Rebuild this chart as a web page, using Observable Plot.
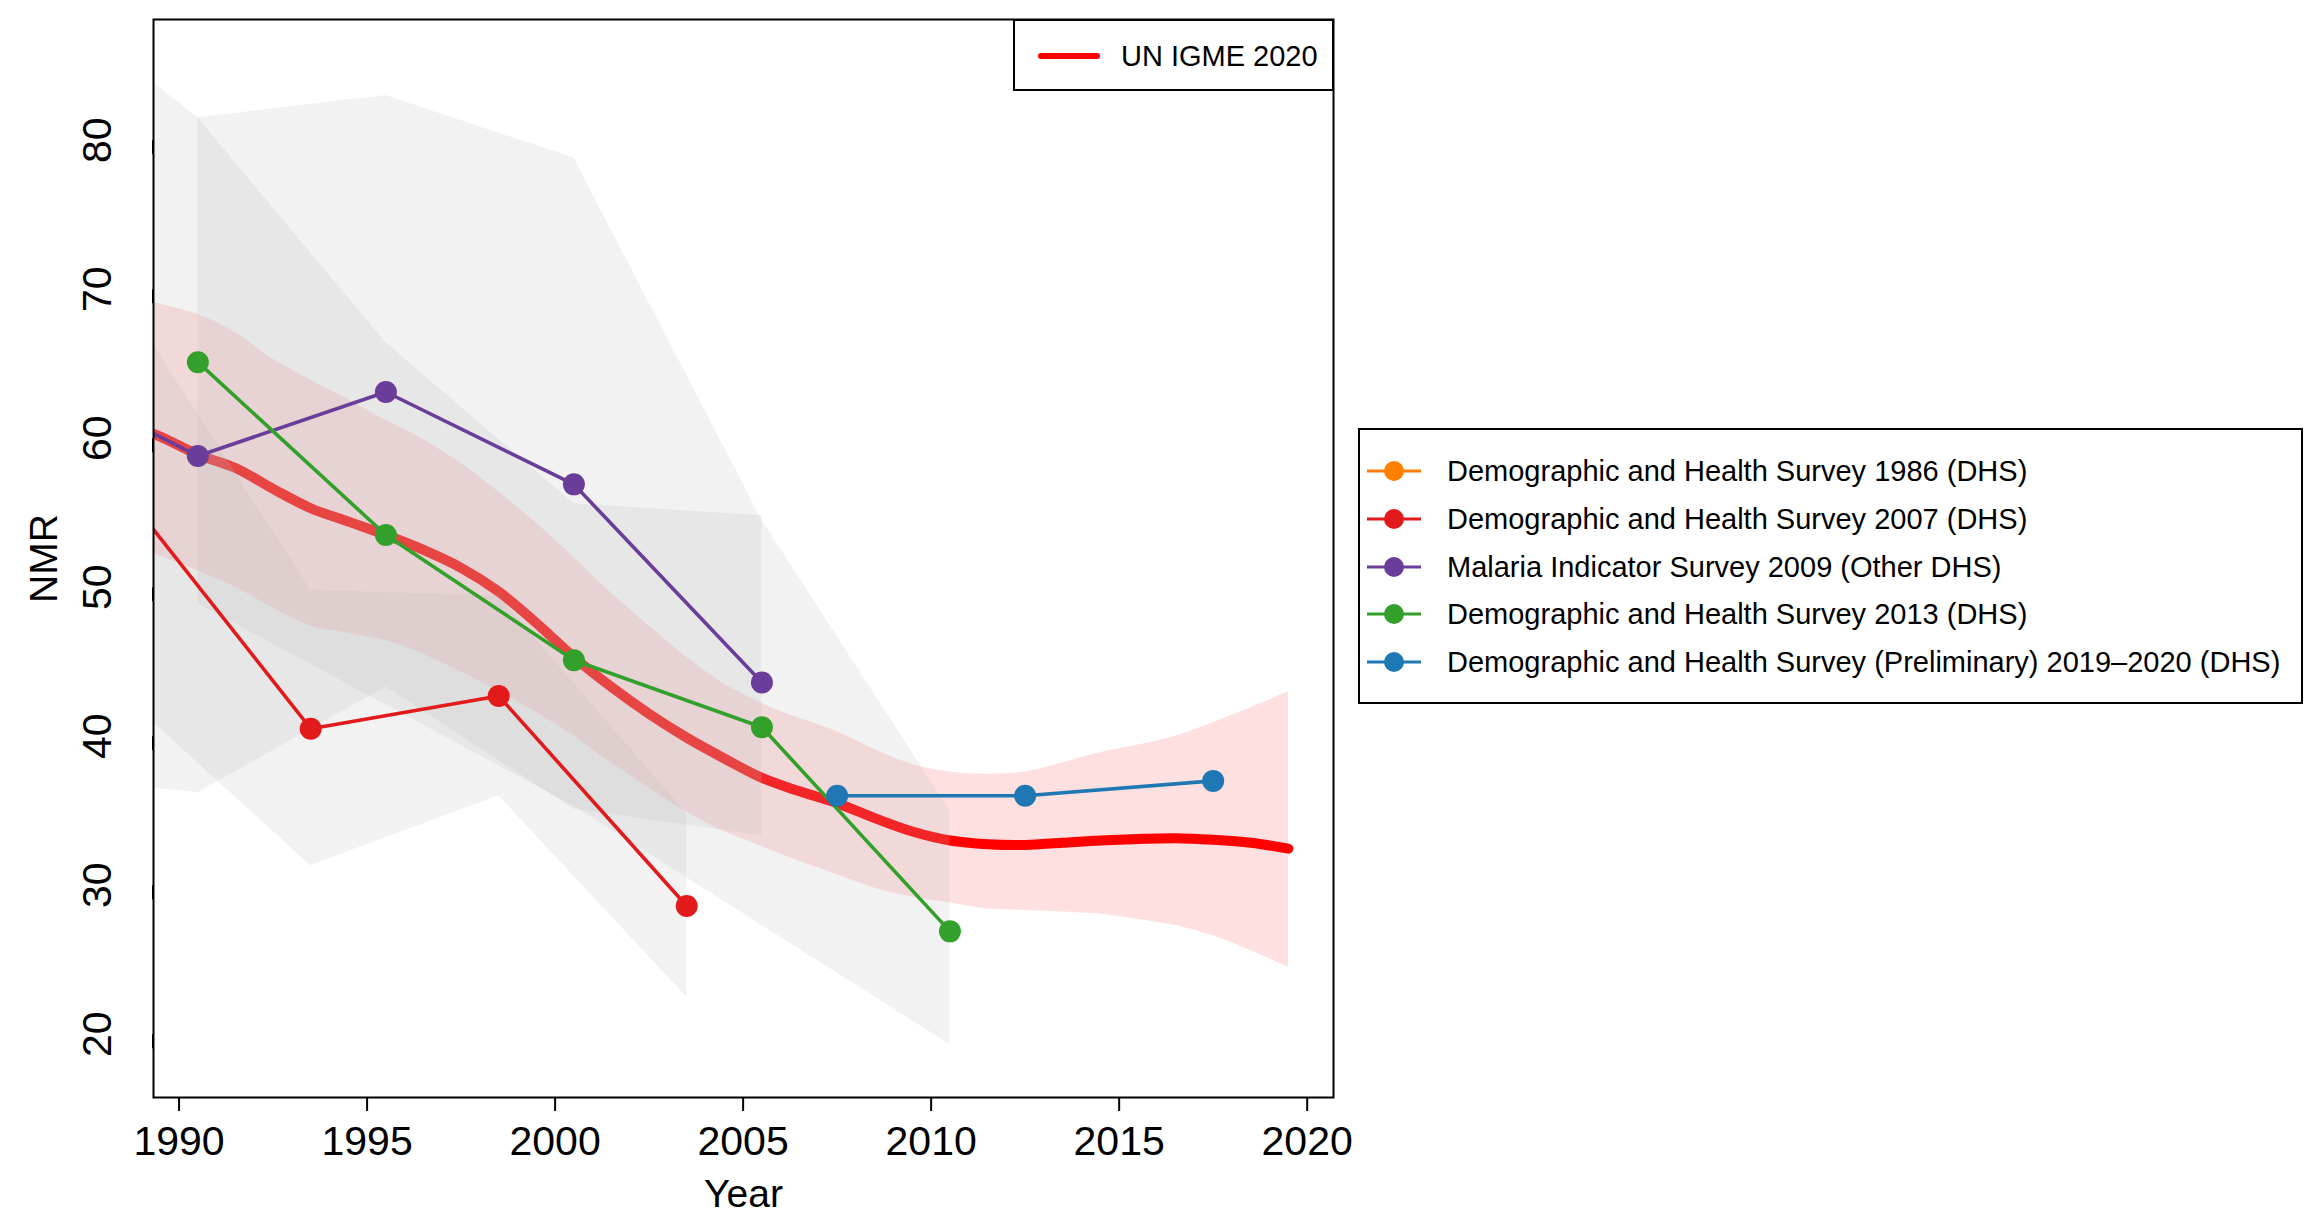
<!DOCTYPE html>
<html>
<head>
<meta charset="utf-8">
<script src="https://cdn.jsdelivr.net/npm/d3@7"></script>
<script src="https://cdn.jsdelivr.net/npm/@observablehq/plot@0.6"></script>
<style>
  body { margin: 0; background: #fff; }
  #wrap { position: relative; width: 2318px; height: 1216px; font-family: "Liberation Sans", Arial, Helvetica, sans-serif; color: #000; }
  #wrap svg { position: absolute; left: 0; top: 0; }
  .legend { position: absolute; box-sizing: border-box; border: 2px solid #000; background: #fff; }
  .legend .sym { position: absolute; left: 0; top: 0; }
  .legend .lab { position: absolute; font-size: 29px; height: 40px; line-height: 40px; white-space: nowrap; }
</style>
</head>
<body>
<div id="wrap"></div>
<script>
// ---- UN IGME 2020 estimates (median and uncertainty bounds) ----
const igmeYears = [1988.5, 1989.5, 1990.5, 1991.5, 1992.5, 1993.5, 1994.5, 1995.5, 1996.5, 1997.5,
  1998.5, 1999.5, 2000.5, 2001.5, 2002.5, 2003.5, 2004.5, 2005.5, 2006.5, 2007.5,
  2008.5, 2009.5, 2010.5, 2011.5, 2012.5, 2013.5, 2014.5, 2015.5, 2016.5, 2017.5, 2018.5, 2019.5];
const igmeMedian = [61.1, 60.1, 58.9, 58.0, 56.6, 55.3, 54.4, 53.5, 52.5, 51.3,
  49.7, 47.6, 45.3, 43.3, 41.5, 39.9, 38.5, 37.2, 36.3, 35.5,
  34.5, 33.6, 33.0, 32.75, 32.7, 32.85, 33.0, 33.1, 33.15, 33.05, 32.85, 32.45];
const igmeLower = [53.0, 52.1, 51.1, 50.0, 48.6, 47.4, 46.9, 46.4, 45.5, 44.3,
  43.0, 41.6, 40.0, 38.2, 36.5, 34.9, 33.6, 32.6, 31.6, 30.7,
  29.8, 29.2, 28.8, 28.4, 28.3, 28.2, 28.05, 27.7, 27.3, 26.6, 25.6, 24.5];
const igmeUpper = [69.8, 69.0, 68.3, 67.1, 65.3, 63.9, 62.6, 61.2, 59.9, 58.3,
  56.4, 54.3, 52.0, 49.6, 47.4, 45.3, 43.5, 42.2, 41.2, 40.3,
  39.1, 38.1, 37.6, 37.45, 37.6, 38.2, 38.9, 39.4, 40.0, 40.9, 41.9, 43.0];

// ---- Surveys ----
const surveyNames = [
  "Demographic and Health Survey 1986 (DHS)",
  "Demographic and Health Survey 2007 (DHS)",
  "Malaria Indicator Survey 2009 (Other DHS)",
  "Demographic and Health Survey 2013 (DHS)",
  "Demographic and Health Survey (Preliminary) 2019\u20132020 (DHS)"
];
const surveyColors = ["#FF7F00", "#E31A1C", "#6A3D9A", "#33A02C", "#1F78B4"];

const dhs2007Years = [1988.5, 1993.5, 1998.5, 2003.5];
const dhs2007Nmr   = [56.5, 40.5, 42.7, 28.6];
const dhs2007Lower = [42.8, 31.3, 36.0, 22.5];
const dhs2007Upper = [69.5, 49.8, 49.4, 34.8];

const mis2009Years = [1985.5, 1990.5, 1995.5, 2000.5, 2005.5];
const mis2009Nmr   = [65.2, 58.8, 63.1, 56.9, 43.6];
const mis2009Lower = [37.6, 36.2, 43.3, 35.1, 33.3];
const mis2009Upper = [91.5, 81.5, 66.4, 55.6, 54.8];

const dhs2013Years = [1990.5, 1995.5, 2000.5, 2005.5, 2010.5];
const dhs2013Nmr   = [65.1, 53.5, 45.1, 40.6, 26.9];
const dhs2013Lower = [48.9, 42.1, 35.3, 27.3, 19.3];
const dhs2013Upper = [81.5, 83.0, 78.8, 54.5, 35.0];

const dhs2019Years = [2007.5, 2012.5, 2017.5];
const dhs2019Nmr   = [36.0, 36.0, 37.0];

const xTicks = [1990, 1995, 2000, 2005, 2010, 2015, 2020];
const yTicks = [20, 30, 40, 50, 60, 70, 80];

// ---- tables built from the arrays ----
const igme = igmeYears.map((x, i) => ({x, y: igmeMedian[i], lo: igmeLower[i], hi: igmeUpper[i]}));
function rows(idx, years, nmr, lower, upper) {
  return years.map((x, i) => ({
    survey: surveyNames[idx], color: surveyColors[idx], x, y: nmr[i],
    lo: lower ? lower[i] : null, hi: upper ? upper[i] : null
  }));
}
const s2007 = rows(1, dhs2007Years, dhs2007Nmr, dhs2007Lower, dhs2007Upper);
const s2009 = rows(2, mis2009Years, mis2009Nmr, mis2009Lower, mis2009Upper);
const s2013 = rows(3, dhs2013Years, dhs2013Nmr, dhs2013Lower, dhs2013Upper);
const s2019 = rows(4, dhs2019Years, dhs2019Nmr, null, null);
const ciRows = [...s2007, ...s2009, ...s2013];
const pointRows = [...s2007, ...s2009, ...s2013, ...s2019];

const FONT = "'Liberation Sans', Arial, Helvetica, sans-serif";

const chart = Plot.plot({
  width: 2318,
  height: 1216,
  marginLeft: 153,
  marginRight: 985,
  marginTop: 19,
  marginBottom: 119,
  style: {fontFamily: FONT, background: "white", color: "black"},
  x: {domain: [1989.32, 2020.7]},
  y: {domain: [15.75, 88.1]},
  color: {type: "identity"},
  marks: [
    Plot.areaY(igme, {x: "x", y1: "lo", y2: "hi", fill: "#ff0000", fillOpacity: 0.12, curve: "catmull-rom", clip: true}),
    Plot.lineY(igme, {x: "x", y: "y", stroke: "#ff0000", strokeWidth: 10, curve: "catmull-rom", strokeLinecap: "round", clip: true}),
    Plot.areaY(ciRows, {x: "x", y1: "lo", y2: "hi", z: "survey", fill: "#bebebe", fillOpacity: 0.2, clip: true}),
    Plot.line(pointRows, {x: "x", y: "y", z: "survey", stroke: "color", strokeWidth: 3.6, clip: true}),
    Plot.dot(pointRows, {x: "x", y: "y", fill: "color", r: 11, clip: true}),
    Plot.axisX({ticks: xTicks, tickFormat: d => String(d), tickSize: 14, tickPadding: 14, strokeWidth: 2, fontSize: 41, label: null}),
    Plot.axisY({ticks: yTicks, tickFormat: d => String(d), tickSize: 14, tickPadding: 42, strokeWidth: 2, fontSize: 41,
      rotate: -90, textAnchor: "middle", label: null}),
    Plot.frame({stroke: "black", strokeWidth: 2}),
    Plot.text(["Year"], {frameAnchor: "bottom", dy: 97, text: d => d, fontSize: 39, lineAnchor: "middle"}),
    Plot.text(["NMR"], {frameAnchor: "left", dx: -109, text: d => d, fontSize: 39, rotate: -90, textAnchor: "middle", lineAnchor: "middle"})
  ]
});
const wrap = document.getElementById("wrap");
wrap.appendChild(chart);

// ---- legend: UN IGME (top right inside the plot) ----
const topLeg = document.createElement("div");
topLeg.className = "legend";
Object.assign(topLeg.style, {left: "1013px", top: "19px", width: "321px", height: "72px"});
topLeg.innerHTML = `<svg class="sym" width="120" height="70"><line x1="26" x2="82" y1="35" y2="35" stroke="#ff0000" stroke-width="6" stroke-linecap="round"/></svg>
  <div class="lab" style="left:106px;top:15px;">UN IGME 2020</div>`;
wrap.appendChild(topLeg);

// ---- legend: surveys (right of the plot) ----
const rightLeg = document.createElement("div");
rightLeg.className = "legend";
Object.assign(rightLeg.style, {left: "1358px", top: "428px", width: "945px", height: "276px"});
const rowY = [41, 89, 137, 184, 232];
let html = `<svg class="sym" width="80" height="270">`;
surveyNames.forEach((n, i) => {
  html += `<line x1="7" x2="61" y1="${rowY[i]}" y2="${rowY[i]}" stroke="${surveyColors[i]}" stroke-width="3"/>`;
  html += `<circle cx="34" cy="${rowY[i]}" r="10" fill="${surveyColors[i]}"/>`;
});
html += `</svg>`;
surveyNames.forEach((n, i) => {
  html += `<div class="lab" style="left:87px;top:${rowY[i] - 20}px;">${n}</div>`;
});
rightLeg.innerHTML = html;
wrap.appendChild(rightLeg);
</script>
</body>
</html>
